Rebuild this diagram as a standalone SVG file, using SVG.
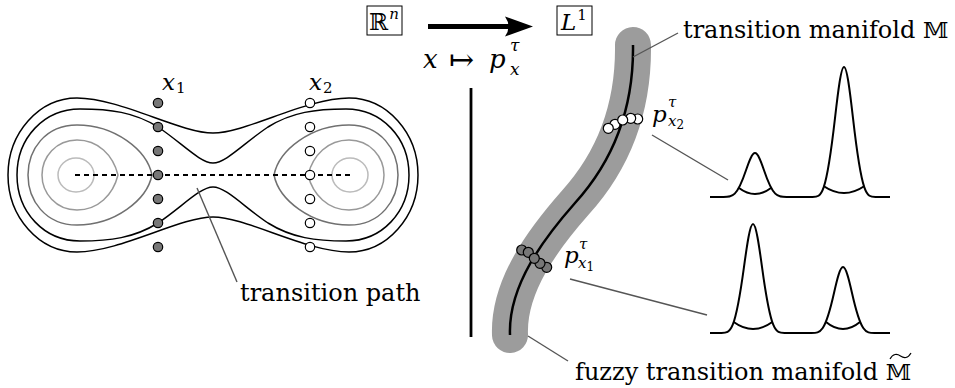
<svg xmlns="http://www.w3.org/2000/svg" xmlns:xlink="http://www.w3.org/1999/xlink" width="955" height="388" viewBox="0 0 955 388">
<style>
text{font-family:'DejaVu Serif',serif;fill:#000}
.lbl{font-size:24px}
.mi{font-style:italic}
.c{fill:none;stroke-width:1.5}
.lead{stroke:#555;stroke-width:1.4;fill:none}
.pk{fill:none;stroke:#000;stroke-width:2;stroke-linejoin:round}
.d1{fill:#777;stroke:#000;stroke-width:1.2}
.d2{fill:#fff;stroke:#000;stroke-width:1.2}
</style>
<defs>
<path id="c3" d="M152,175 C147,150 115,125 77,125 C45,125 28,150 28,175 C28,200 45,225 77,225 C115,225 147,200 152,175 Z"/>
<path id="c4" d="M118,175 C113,155 98,140 77,140 C56,140 42,157 42,175 C42,193 56,210 77,210 C98,210 113,195 118,175 Z"/>
<ellipse id="c5" cx="76" cy="175" rx="18" ry="17"/>
</defs>

<g id="potential">
<path class="c" stroke="#000" d="M213,133 C180,133 120,98 77,98 C39,98 8,133 8,175 C8,217 39,252 77,252 C120,252 180,217 213,217 C246,217 306,252 349,252 C387,252 418,217 418,175 C418,133 387,98 349,98 C306,98 246,133 213,133 Z"/>
<path class="c" stroke="#000" d="M213,163 C200,163 182,143 158,127 C134,112 110,109 80,109 C44,109 17,138 17,175 C17,212 44,241 80,241 C110,241 134,238 158,223 C182,207 200,187 213,187 C226,187 244,207 268,223 C292,238 316,241 346,241 C382,241 409,212 409,175 C409,138 382,109 346,109 C316,109 292,112 268,127 C244,143 226,163 213,163 Z"/>
<use xlink:href="#c3" class="c" stroke="#707070"/>
<use xlink:href="#c3" class="c" stroke="#707070" transform="matrix(-1 0 0 1 426 0)"/>
<use xlink:href="#c4" class="c" stroke="#999"/>
<use xlink:href="#c4" class="c" stroke="#999" transform="matrix(-1 0 0 1 426 0)"/>
<use xlink:href="#c5" class="c" stroke="#bbb"/>
<use xlink:href="#c5" class="c" stroke="#bbb" transform="matrix(-1 0 0 1 426 0)"/>
<line x1="75" y1="175" x2="352" y2="175" stroke="#000" stroke-width="2" stroke-dasharray="5 4"/>
</g>

<g id="x1-samples">
<circle class="d1" cx="158" cy="103" r="4.7"/>
<circle class="d1" cx="158" cy="127" r="4.7"/>
<circle class="d1" cx="158" cy="151" r="4.7"/>
<circle class="d1" cx="158" cy="175" r="4.7"/>
<circle class="d1" cx="158" cy="199" r="4.7"/>
<circle class="d1" cx="158" cy="223" r="4.7"/>
<circle class="d1" cx="158" cy="247" r="4.7"/>
<text class="mi" x="162" y="90" font-size="23">x<tspan font-style="normal" font-size="15" dx="1" dy="3">1</tspan></text>
</g>

<g id="x2-samples">
<circle class="d2" cx="310" cy="103" r="4.7"/>
<circle class="d2" cx="310" cy="127" r="4.7"/>
<circle class="d2" cx="310" cy="151" r="4.7"/>
<circle class="d2" cx="310" cy="175" r="4.7"/>
<circle class="d2" cx="310" cy="199" r="4.7"/>
<circle class="d2" cx="310" cy="223" r="4.7"/>
<circle class="d2" cx="310" cy="247" r="4.7"/>
<text class="mi" x="309" y="90" font-size="23">x<tspan font-style="normal" font-size="15" dx="1" dy="3">2</tspan></text>
</g>

<g id="transition-path-label">
<text class="lbl" x="240" y="301">transition path</text>
</g>

<g id="Rn">
<rect x="367" y="6" width="35" height="29" fill="none" stroke="#000" stroke-width="1"/>
<text x="369" y="30" font-size="23">ℝ<tspan font-style="italic" font-size="15" dx="1" dy="-11">n</tspan></text>
</g>

<g id="L1">
<rect x="557" y="6" width="35" height="29" fill="none" stroke="#000" stroke-width="1"/>
<text class="mi" x="561" y="30" font-size="23">L<tspan font-style="normal" font-size="15" dx="1" dy="-10">1</tspan></text>
</g>

<g id="map">
<line x1="428" y1="26.5" x2="512" y2="26.5" stroke="#000" stroke-width="5"/>
<path d="M533,26.5 L505,16.5 Q512,26.5 505,36.5 Z" fill="#000"/>
<text class="mi" x="423" y="68" font-size="26">x</text>
<text x="449" y="70" font-size="30">↦</text>
<text class="mi" x="489" y="68" font-size="26">p</text>
<text class="mi" x="510" y="51" font-size="17">τ</text>
<text class="mi" x="510" y="75" font-size="17">x</text>
</g>

<g id="divider">
<line x1="471" y1="88" x2="471" y2="337" stroke="#000" stroke-width="2.8"/>
</g>

<g id="manifold">
<path d="M633,45 C634,120 605,170 575,203 C545,237 508,285 510,335" fill="none" stroke="#9c9c9c" stroke-width="36" stroke-linecap="round"/>
<path d="M633,45 C634,120 605,170 575,203 C545,237 508,285 510,335" fill="none" stroke="#000" stroke-width="2.5"/>
</g>

<g id="px2-samples">
<circle class="d2" cx="637.7" cy="119" r="5"/>
<circle class="d2" cx="630.7" cy="118.3" r="5"/>
<circle class="d2" cx="615" cy="124.3" r="5"/>
<circle class="d2" cx="608.3" cy="128.3" r="5"/>
<circle class="d2" cx="622.7" cy="120" r="5"/>
<text class="mi" x="652" y="122" font-size="23">p</text>
<text class="mi" x="668" y="107" font-size="15">τ</text>
<text class="mi" x="668" y="126" font-size="15">x<tspan font-style="normal" font-size="12" dx="0" dy="3">2</tspan></text>
</g>

<g id="px1-samples">
<circle class="d1" cx="546.7" cy="267.3" r="5"/>
<circle class="d1" cx="540" cy="263.3" r="5"/>
<circle class="d1" cx="521.7" cy="250" r="5"/>
<circle class="d1" cx="528.3" cy="252.3" r="5"/>
<circle class="d1" cx="534.3" cy="258.3" r="5"/>
<text class="mi" x="564" y="263" font-size="23">p</text>
<text class="mi" x="579" y="249" font-size="15">τ</text>
<text class="mi" x="578" y="268" font-size="15">x<tspan font-style="normal" font-size="12" dx="0" dy="3">1</tspan></text>
</g>

<g id="density-x2">
<path class="pk" d="M710,197 L723.5,197 C732.5,197 737,197 746,170.3 C749,161.4 752,153 755,153 C758,153 761,161.4 764,170.3 C773,197 777.5,197 786.5,197 L812.5,197 C821.5,197 826,197 835,118.2 C838,91.9 841,67 844,67 C847,67 850,91.9 853,118.2 C862,197 866.5,197 875.5,197 L890,197"/>
<path class="pk" d="M739,188 Q755,200 771,188"/>
<path class="pk" d="M823.5,186 Q844,200 864.5,186"/>
</g>

<g id="density-x1">
<path class="pk" d="M710,333 L721.5,333 C730.5,333 735,333 744,266.9 C747,244.9 750,224 753,224 C756,224 759,244.9 762,266.9 C771,333 775.5,333 784.5,333 L811.5,333 C820.5,333 825,333 834,293 C837,279.6 840,267 843,267 C846,267 849,279.6 852,293 C861,333 865.5,333 874.5,333 L890,333"/>
<path class="pk" d="M733.7,322 Q753,336 772.3,322"/>
<path class="pk" d="M826,322 Q843,336 860,322"/>
</g>

<g id="manifold-label">
<text class="lbl" x="683" y="38">transition manifold <tspan font-size="23">𝕄</tspan></text>
</g>

<g id="fuzzy-label">
<text class="lbl" x="575" y="380">fuzzy transition manifold <tspan font-size="23">𝕄</tspan></text>
<path d="M890,359 C893,353.5 897,353.5 900.5,356 C904,358.5 908,358.5 911,353" fill="none" stroke="#000" stroke-width="1.2"/>
</g>

<g id="connectors">
<line class="lead" x1="197" y1="188" x2="237" y2="282"/>
<line class="lead" x1="633" y1="57" x2="678" y2="33"/>
<line class="lead" x1="652" y1="135" x2="728" y2="180"/>
<line class="lead" x1="570" y1="279" x2="707" y2="315"/>
<line class="lead" x1="528" y1="336" x2="568" y2="361"/>
</g>
</svg>
